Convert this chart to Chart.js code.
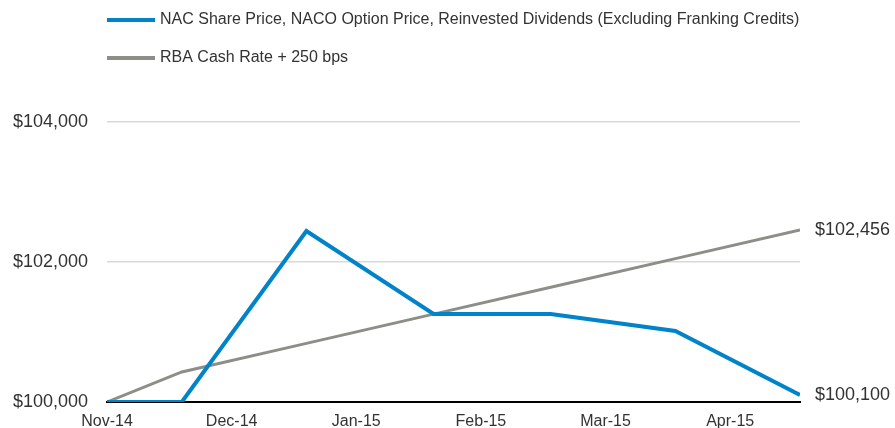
<!DOCTYPE html>
<html>
<head>
<meta charset="utf-8">
<script src="https://cdn.jsdelivr.net/npm/chart.js@4"></script>
<style>
  html, body { margin: 0; padding: 0; background: #fff; }
  #wrap { width: 895px; height: 428px; }
</style>
</head>
<body>
<div id="wrap"><canvas id="perfChart" width="895" height="428"></canvas></div>
<script>
// --- data ---
const monthLabels = ['Nov-14', 'Dec-14', 'Jan-15', 'Feb-15', 'Mar-15', 'Apr-15'];
// time in months since Nov-14
const pointMonths = [0, 0.6, 1.6, 2.62, 3.56, 4.56, 5.56];
const nacValues = [100000, 100000, 102443, 101257, 101257, 101014, 100100];
const rbaValues = [100000, 100429, 100838, 101255, 101639, 102048, 102456];
const seriesNames = [
    'NAC Share Price, NACO Option Price, Reinvested Dividends (Excluding Franking Credits)',
    'RBA Cash Rate + 250 bps'
];
const yTicks = [100000, 102000, 104000];

const FONT = '"Liberation Sans", Arial, sans-serif';
const TEXT = '#333333';
const BLUE = '#0083c9';
const GREY = '#8e8e88';

const fmt = v => '$' + Math.round(v).toLocaleString('en-US');
const toXY = (xs, ys) => xs.map((x, i) => ({ x: x, y: ys[i] }));

// legend drawn above the plot, left-aligned with chart area
const topLegend = {
    id: 'topLegend',
    afterDraw(chart) {
        const c = chart.ctx;
        const left = chart.chartArea.left;
        const rows = [20, 58];
        c.save();
        c.font = '16px ' + FONT;
        c.textBaseline = 'middle';
        chart.data.datasets.forEach((ds, i) => {
            c.strokeStyle = ds.borderColor;
            c.lineWidth = 4;
            c.beginPath();
            c.moveTo(left, rows[i]);
            c.lineTo(left + 48, rows[i]);
            c.stroke();
            c.fillStyle = TEXT;
            c.fillText(ds.label, left + 53, rows[i]);
        });
        c.restore();
    }
};

// final value labels at the right end of each line
const endLabels = {
    id: 'endLabels',
    afterDatasetsDraw(chart) {
        const c = chart.ctx;
        c.save();
        c.font = '18px ' + FONT;
        c.fillStyle = TEXT;
        c.textBaseline = 'middle';
        chart.data.datasets.forEach((ds, i) => {
            const pts = chart.getDatasetMeta(i).data;
            const last = pts[pts.length - 1];
            const val = ds.data[ds.data.length - 1].y;
            c.fillText(fmt(val), last.x + 15, last.y);
        });
        c.restore();
    }
};

new Chart(document.getElementById('perfChart'), {
    type: 'line',
    data: {
        datasets: [{
            label: seriesNames[0],
            data: toXY(pointMonths, nacValues),
            borderColor: BLUE,
            borderWidth: 4,
            pointRadius: 0,
            tension: 0
        }, {
            label: seriesNames[1],
            data: toXY(pointMonths, rbaValues),
            borderColor: GREY,
            borderWidth: 3,
            pointRadius: 0,
            tension: 0
        }]
    },
    options: {
        responsive: false,
        animation: false,
        layout: { padding: { top: 122, right: 95, left: 0, bottom: 0 } },
        plugins: {
            legend: { display: false },
            tooltip: { enabled: false }
        },
        scales: {
            x: {
                type: 'linear',
                min: 0,
                max: pointMonths[pointMonths.length - 1],
                afterBuildTicks: scale => {
                    scale.ticks = monthLabels.map((_, i) => ({ value: i }));
                },
                afterFit: scale => { scale.height = 26; },
                ticks: {
                    callback: v => monthLabels[v],
                    color: TEXT,
                    font: { family: FONT, size: 16 },
                    padding: 10,
                    maxRotation: 0,
                    autoSkip: false
                },
                grid: { display: false, drawTicks: false },
                border: { display: true, color: '#000000', width: 2 }
            },
            y: {
                min: yTicks[0],
                max: yTicks[yTicks.length - 1],
                afterBuildTicks: scale => {
                    scale.ticks = yTicks.map(v => ({ value: v }));
                },
                afterFit: scale => {
                    scale.width = 107;
                    scale.paddingTop = 0;
                    scale.paddingBottom = 0;
                },
                ticks: {
                    callback: v => fmt(v),
                    color: TEXT,
                    font: { family: FONT, size: 18 },
                    padding: 19
                },
                grid: {
                    drawTicks: false,
                    color: ctx => ctx.tick && ctx.tick.value === yTicks[0] ? 'rgba(0,0,0,0)' : '#d9d9d9',
                    lineWidth: 1.5
                },
                border: { display: false }
            }
        }
    },
    plugins: [topLegend, endLabels]
});
</script>
</body>
</html>
